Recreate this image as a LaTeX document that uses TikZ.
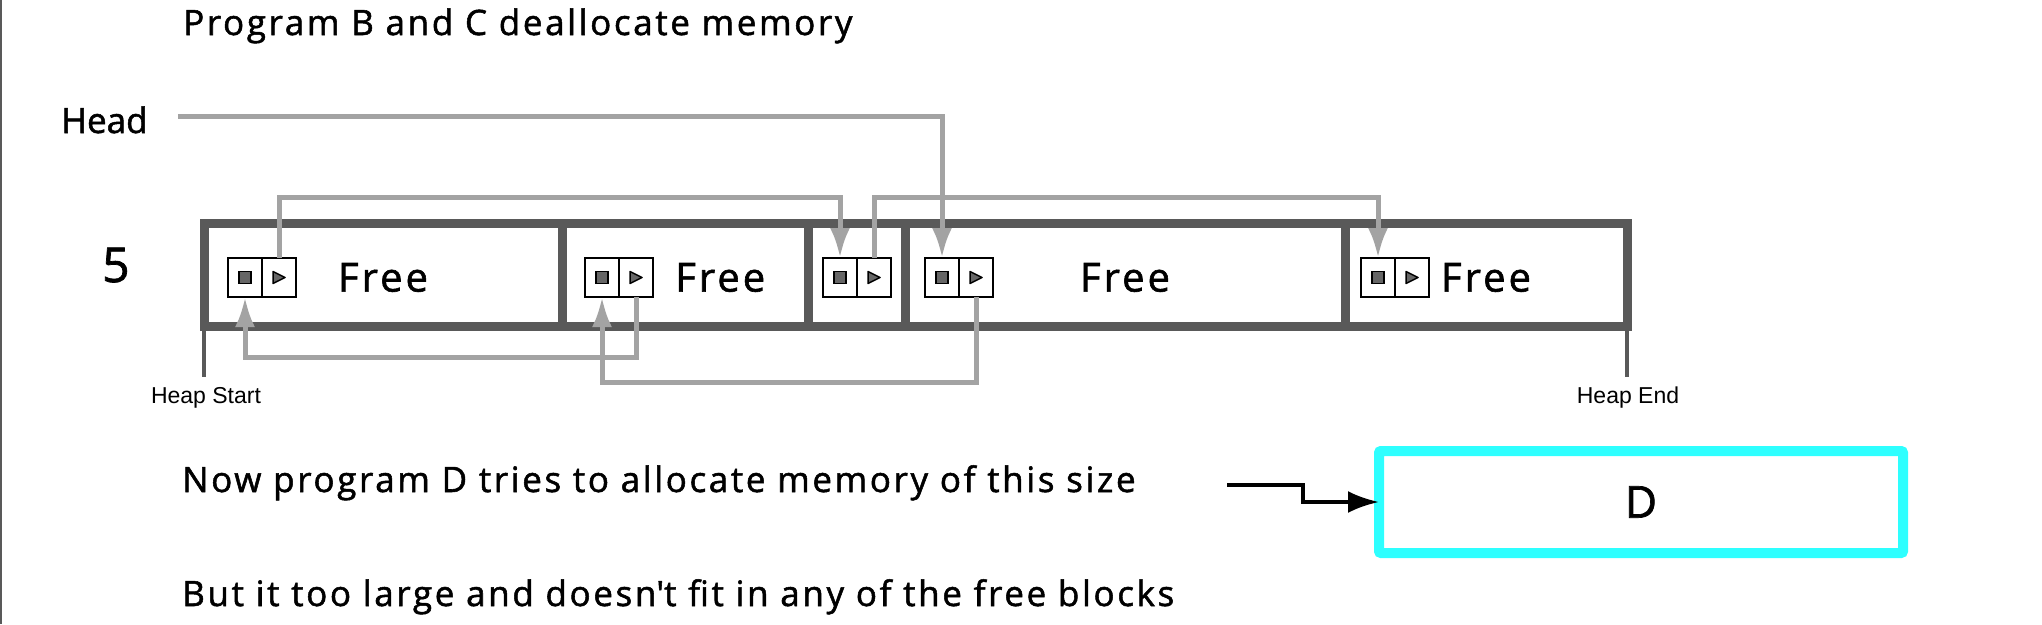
\documentclass[tikz,border=0pt]{standalone}
\usepackage{fontspec}
\setmainfont{Open Sans}
\newfontfamily\spacedfont[LetterSpace=7.5, FakeBold=1.5]{Open Sans}
\newfontfamily\headfont[FakeBold=1.5]{Open Sans}
\newfontfamily\heaplabelfont{Liberation Sans}
\usetikzlibrary{positioning,arrows.meta}
\tikzset{>={Latex[length=30pt,width=20pt]}}
\definecolor{heapgray}{HTML}{595959}
\definecolor{linkgray}{HTML}{A3A3A3}
\definecolor{markgray}{HTML}{666666}
\definecolor{reqcyan}{HTML}{2EFFFF}

\begin{document}
\begin{tikzpicture}[
        x=1pt,
        y=-1pt,
        block/.style={
            draw=heapgray,
            line width=9pt,
            minimum height=103pt,
            inner sep=0pt,
            outer sep=0pt,
          },
        cell/.style={
            draw,
            fill=white,
            line width=2pt,
            minimum width=34pt,
            minimum height=39pt,
            inner sep=0pt,
            outer sep=0pt,
          },
        prevcell/.style={
            cell,
            path picture={\draw[fill=markgray,line width=1.5pt]
              ([xshift=-6pt,yshift=-6pt]path picture bounding box.center) rectangle ++(12pt,12pt);},
          },
        nextcell/.style={
            cell,
            path picture={\draw[fill=markgray,line width=1.5pt,line join=round]
              ([xshift=-6pt,yshift=6pt]path picture bounding box.center) -- ++(0pt,-12pt) -- ++(12pt,6pt) -- cycle;},
          },
        link/.style={draw=linkgray, line width=5pt},
        txt/.style={font=\spacedfont\fontsize{35}{42}\selectfont, inner sep=0pt},
        freetext/.style={font=\spacedfont\fontsize{40}{48}\selectfont, inner sep=0pt},
        heaplabel/.style={font=\heaplabelfont\fontsize{23}{28}\selectfont, inner sep=0pt},
      ]
      \useasboundingbox (0,0) rectangle (2042,624);
      \draw[line width=2pt, black!65] (1,0) -- (1,624);

      \node [txt, anchor=base west] (title) at (183,35) {Program B and C deallocate memory};
      \node [
        font=\headfont\fontsize{35}{42}\selectfont,
        inner sep=0pt,
        anchor=base west
      ] (head) at (61,133) {Head};
      \node [
        font=\headfont\fontsize{48}{58}\selectfont,
        inner sep=0pt,
        anchor=base west
      ] (count) at (102,282) {5};

      % the heap
      \node [
        block,
        minimum width=358pt,
        anchor=north west
      ] (first) at (204,223) {};
      \node [block, minimum width=246pt, right=0pt of first] (second) {};
      \node [block, minimum width=97pt, right=0pt of second] (third) {};
      \node [block, minimum width=440pt, right=0pt of third] (fourth) {};
      \node [block, minimum width=282pt, right=0pt of fourth] (fifth) {};

      \node [prevcell, right=24pt of first.west, yshift=-3pt] (p1a) {};
      \node [nextcell, right=0pt of p1a] (p1b) {};
      \node [prevcell, right=23pt of second.west, yshift=-3pt] (p2a) {};
      \node [nextcell, right=0pt of p2a] (p2b) {};
      \node [prevcell, right=15pt of third.west, yshift=-3pt] (p3a) {};
      \node [nextcell, right=0pt of p3a] (p3b) {};
      \node [prevcell, right=20pt of fourth.west, yshift=-3pt] (p4a) {};
      \node [nextcell, right=0pt of p4a] (p4b) {};
      \node [prevcell, right=16pt of fifth.west, yshift=-3pt] (p5a) {};
      \node [nextcell, right=0pt of p5a] (p5b) {};

      \node [freetext] (free1) at (first.center |- p1b) {Free};
      \node [freetext, right=22pt of p2b] (free2) {Free};
      \node [freetext] (free4) at (fourth.center |- p4b) {Free};
      \node [freetext] (free5) at (fifth.center |- p5b) {Free};

      \draw[heapgray, line width=4pt] (first.south west) -- ++(0,51);
      \draw[heapgray, line width=4pt] (fifth.south east) -- ++(0,51);
      \node [heaplabel, anchor=base] (heapstart) at (206,403) {Heap Start};
      \node [heaplabel, anchor=base] (heapend) at (1628,403) {Heap End};

      % free list links
      \draw[link,->] ([xshift=30pt,yshift=3pt]head.east) -| (p4a.north);
      \draw[link,->] (p1b.north) -- ++(0,-61) -| (p3a.north);
      \draw[link,->] (p3b.north) -- ++(0,-61) -| (p5a.north);
      \draw[link,->] (p2b.south) -- ++(0,60) -| (p1a.south);
      \draw[link,->] (p4b.south) -- ++(0,85) -| (p2a.south);

      % the request
      \node [txt, anchor=base west] (now) at (182,492) {Now program D tries to allocate memory of this size};
      \node [txt, anchor=base west] (toolarge) at (182,606) {But it too large and doesn\textquotesingle t fit in any of the free blocks};
      \node [
        draw=reqcyan,
        line width=10pt,
        rounded corners=2pt,
        minimum width=524pt,
        minimum height=102pt,
        inner sep=0pt,
        outer sep=0pt,
        font=\spacedfont\fontsize{44}{53}\selectfont
      ] (request) at (1641,502) {D};
      \coordinate (askstart) at (1227,485);
      \draw[line width=4pt, -{Latex[length=31pt,width=22pt]}] (askstart) -- ++(76,0) |- (request.west);
    \end{tikzpicture}
\end{document}
